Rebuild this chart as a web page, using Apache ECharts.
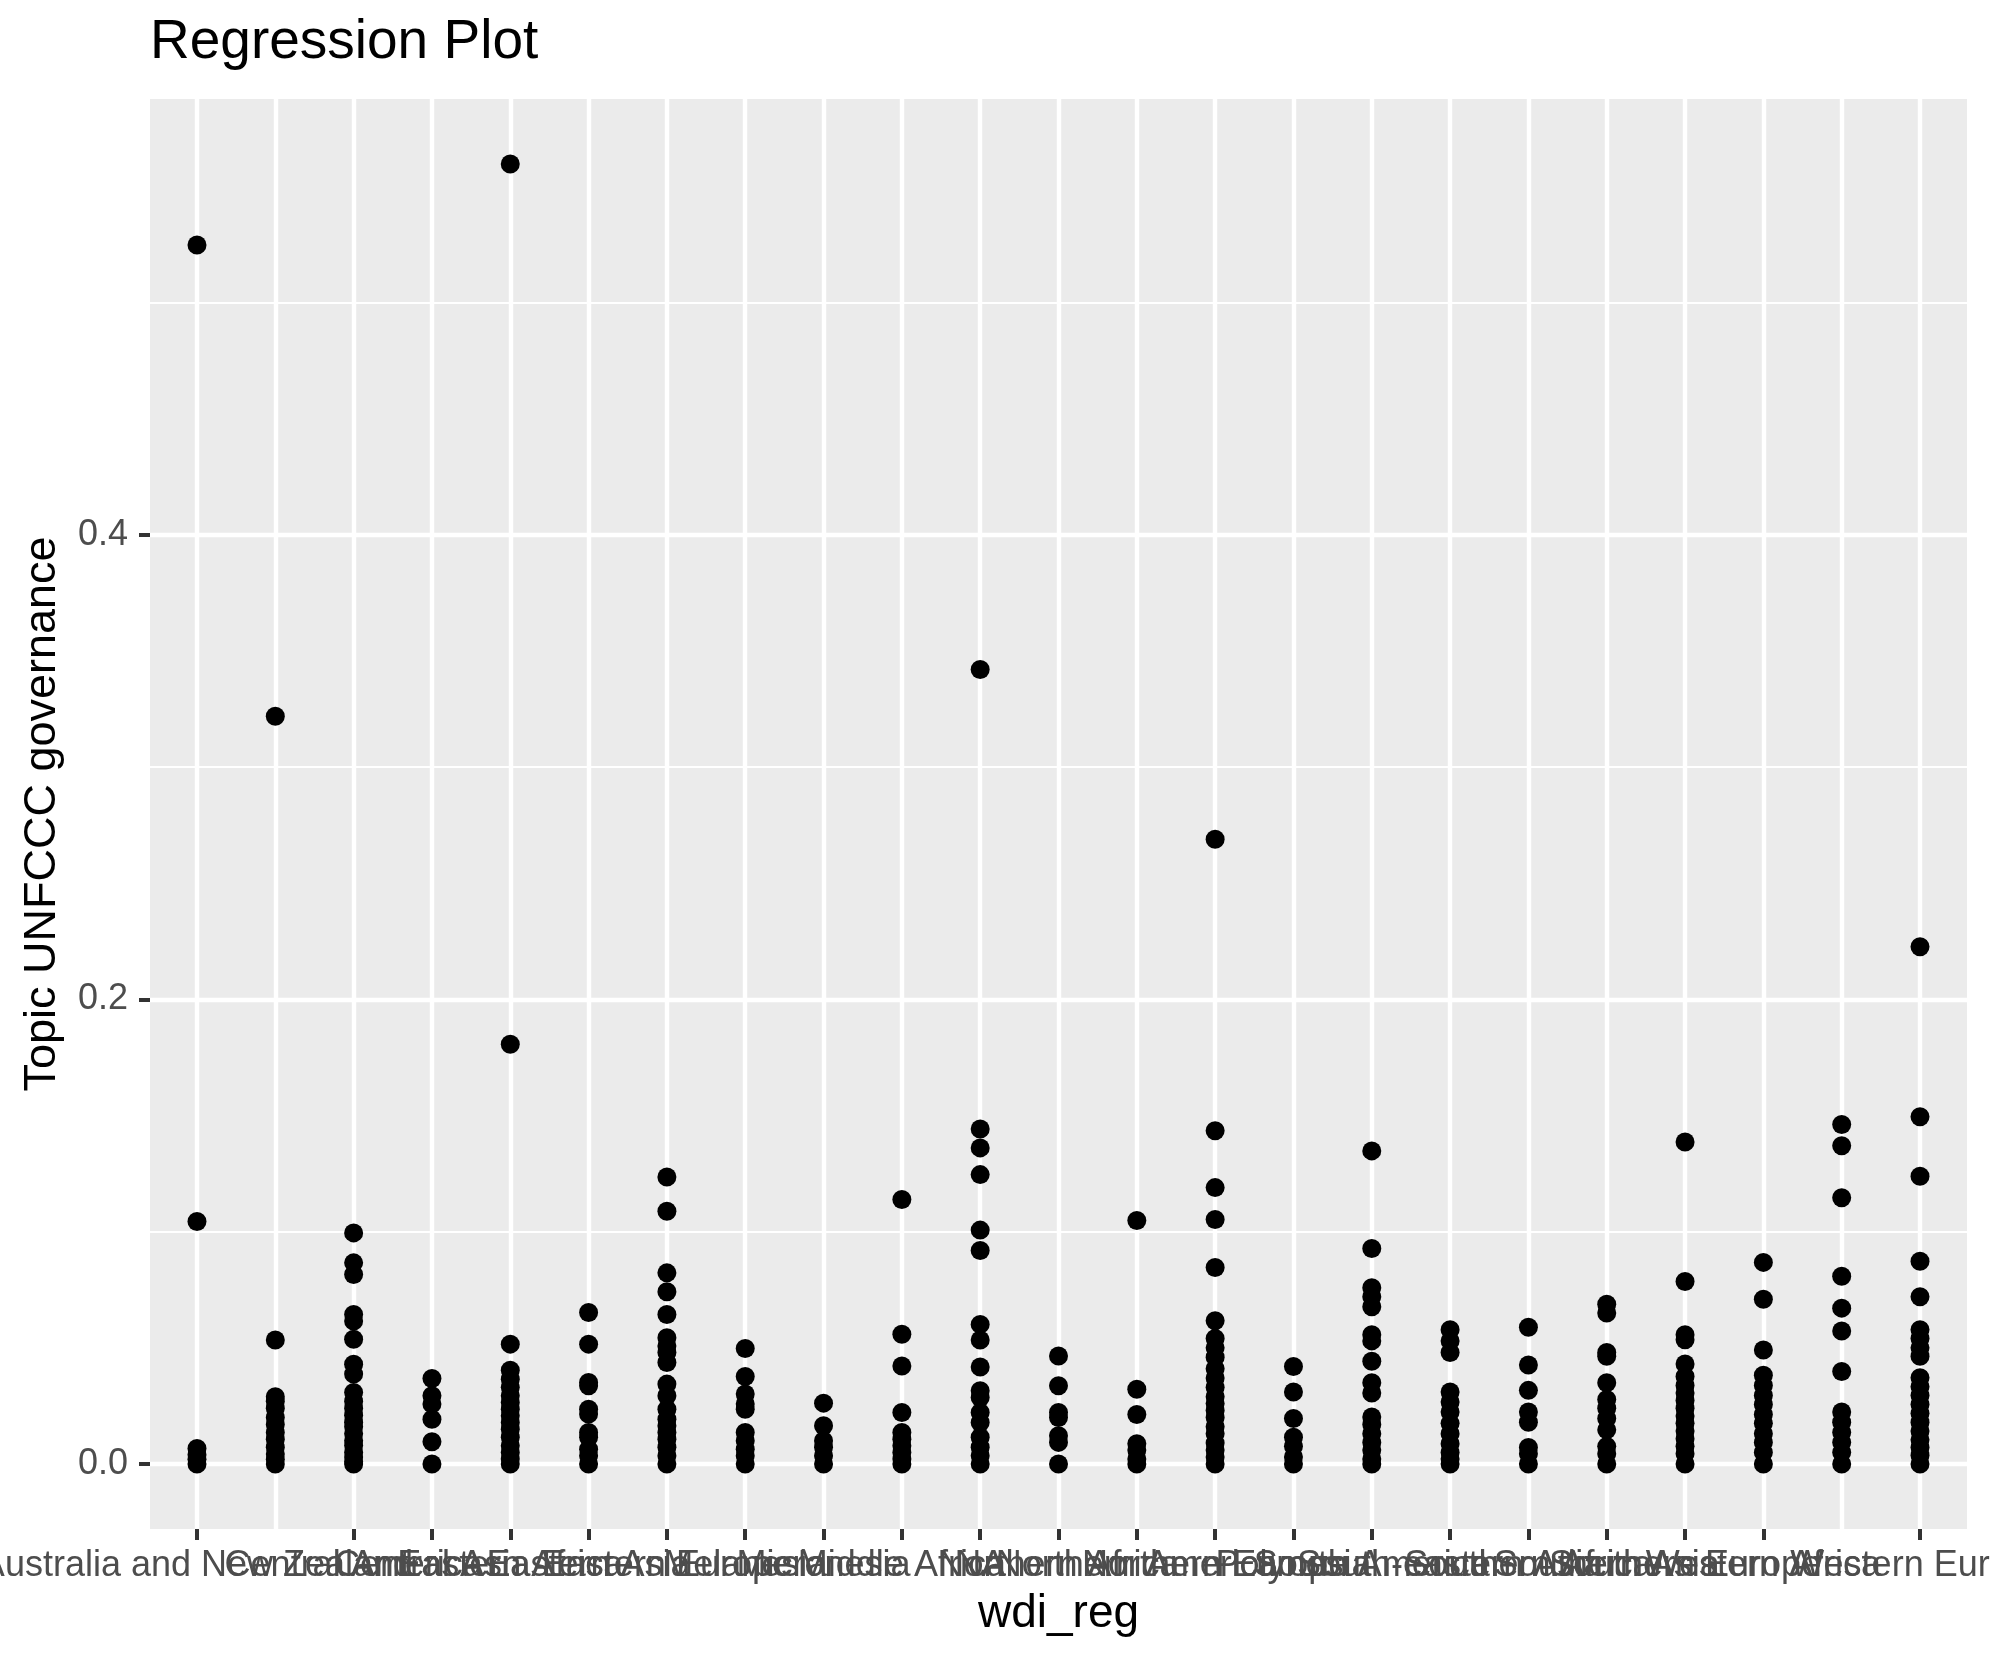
<!DOCTYPE html>
<html>
<head>
<meta charset="utf-8">
<style>
  html, body { margin: 0; padding: 0; background: #ffffff; }
  #chart { width: 1990px; height: 1665px; }
</style>
<script src="https://cdn.jsdelivr.net/npm/echarts@6/dist/echarts.min.js"></script>
</head>
<body>
<div id="chart"></div>
<script>
// Categories (x axis, discrete, alphabetical as in the reference)
const CATEGORIES = [
  "Australia and New Zealand", "Caribbean", "Central America", "Central Asia",
  "Eastern Africa", "Eastern Asia", "Eastern Europe", "Melanesia", "Micronesia",
  "Middle Africa", "NA", "Northern Africa", "Northern America", "Northern Europe",
  "Polynesia", "South America", "South-eastern Asia", "Southern Africa",
  "Southern Asia", "Southern Europe", "Western Africa", "Western Asia", "Western Europe"
];

// Values per category (Topic UNFCCC governance)
const australiaNZ     = [0.5248, 0.1044, 0.0067, 0.004, 0.002, 0];
const caribbean       = [0.3219, 0.0534, 0.029, 0.027, 0.024, 0.020, 0.017, 0.0136, 0.0107, 0.0072, 0.0043, 0.002, 0];
const centralAmerica  = [0.0995, 0.0866, 0.0816, 0.0644, 0.0616, 0.0537, 0.043, 0.0387, 0.0308, 0.027, 0.024, 0.021, 0.018, 0.016, 0.013, 0.010, 0.008, 0.005, 0.003, 0.001, 0];
const centralAsia     = [0.0368, 0.0294, 0.0258, 0.0193, 0.0096, 0];
const easternAfrica   = [0.5597, 0.1807, 0.0516, 0.0404, 0.0365, 0.033, 0.0294, 0.0265, 0.0236, 0.0208, 0.0179, 0.015, 0.0115, 0.0079, 0.005, 0.0021, 0];
const easternAsia     = [0.0652, 0.0516, 0.0351, 0.0337, 0.0236, 0.0215, 0.0136, 0.0115, 0.0064, 0.0036, 0];
const easternEurope   = [0.1236, 0.1088, 0.0823, 0.0742, 0.0644, 0.0544, 0.0508, 0.048, 0.0437, 0.0344, 0.0294, 0.0236, 0.0193, 0.0165, 0.0136, 0.0107, 0.0072, 0.0036, 0];
const melanesia       = [0.0497, 0.0377, 0.0301, 0.0258, 0.0236, 0.0136, 0.01, 0.0064, 0.0036, 0];
const micronesia      = [0.0262, 0.0165, 0.01, 0.0072, 0.0036, 0];
const middleAfrica    = [0.1139, 0.0559, 0.0422, 0.0222, 0.0136, 0.0107, 0.0079, 0.005, 0.0021, 0];
const naRegion        = [0.3421, 0.1442, 0.1361, 0.1246, 0.1007, 0.0919, 0.0601, 0.0534, 0.0418, 0.0315, 0.0286, 0.0222, 0.0179, 0.0115, 0.0072, 0.0036, 0];
const northernAfrica  = [0.0465, 0.0337, 0.0222, 0.02, 0.0122, 0.0093, 0];
const northernAmerica = [0.1048, 0.0322, 0.0213, 0.0087, 0.006, 0.0022, 0];
const northernEurope  = [0.269, 0.1435, 0.119, 0.1053, 0.0846, 0.0617, 0.054, 0.05, 0.046, 0.041, 0.037, 0.033, 0.029, 0.026, 0.023, 0.020, 0.016, 0.013, 0.009, 0.006, 0.003, 0];
const polynesia       = [0.042, 0.031, 0.0196, 0.0115, 0.0076, 0.003, 0];
const southAmerica    = [0.1348, 0.0928, 0.0759, 0.072, 0.0677, 0.0557, 0.053, 0.0442, 0.035, 0.0306, 0.0202, 0.017, 0.013, 0.0093, 0.006, 0.0022, 0];
const southEastAsia   = [0.0578, 0.053, 0.048, 0.031, 0.0267, 0.0224, 0.0175, 0.013, 0.0087, 0.005, 0.0022, 0];
const southernAfrica  = [0.0589, 0.0426, 0.0317, 0.0224, 0.018, 0.0071, 0.0044, 0];
const southernAsia    = [0.0688, 0.065, 0.048, 0.0464, 0.035, 0.0278, 0.024, 0.0196, 0.0147, 0.0076, 0.0044, 0];
const southernEurope  = [0.1386, 0.0786, 0.0557, 0.0535, 0.0431, 0.0377, 0.0338, 0.0306, 0.0273, 0.024, 0.0207, 0.0175, 0.0142, 0.0109, 0.0076, 0.0044, 0];
const westernAfrica   = [0.0868, 0.0709, 0.0491, 0.0382, 0.0338, 0.0295, 0.0256, 0.0213, 0.0175, 0.013, 0.0093, 0.005, 0];
const westernAsia     = [0.1462, 0.137, 0.1146, 0.0808, 0.0671, 0.0573, 0.0398, 0.0224, 0.018, 0.0136, 0.0093, 0.005, 0];
const westernEurope   = [0.2227, 0.1495, 0.1239, 0.0873, 0.072, 0.0578, 0.054, 0.05, 0.0464, 0.0371, 0.0333, 0.0295, 0.0256, 0.0218, 0.018, 0.0142, 0.0104, 0.0071, 0.0038, 0];

const VALUES_BY_CATEGORY = [
  australiaNZ, caribbean, centralAmerica, centralAsia, easternAfrica, easternAsia,
  easternEurope, melanesia, micronesia, middleAfrica, naRegion, northernAfrica,
  northernAmerica, northernEurope, polynesia, southAmerica, southEastAsia,
  southernAfrica, southernAsia, southernEurope, westernAfrica, westernAsia, westernEurope
];

// Y tick labels (major)
const Y_TICKS = [0, 0.2, 0.4];

// Build scatter data through the axes' scales
const points = [];
VALUES_BY_CATEGORY.forEach((arr, i) => arr.forEach(v => points.push([i, v])));

const allVals = points.map(p => p[1]);
const dMax = Math.max(...allVals), dMin = Math.min(...allVals);
const span = dMax - dMin;
const YMIN = dMin - 0.05 * span;
const YMAX = dMax + 0.05 * span;
const catIdx = CATEGORIES.map((_, i) => i);

const FONT = '"Liberation Sans", Arial, Helvetica, sans-serif';

const chart = echarts.init(document.getElementById('chart'), null, { renderer: 'canvas' });
chart.setOption({
  animation: false,
  backgroundColor: '#ffffff',
  textStyle: { fontFamily: FONT },
  title: {
    text: 'Regression Plot',
    left: 150, top: 15, padding: 0,
    textStyle: { fontSize: 55, fontWeight: 'normal', color: '#000000', fontFamily: FONT }
  },
  grid: {
    left: 150, right: 23, top: 99, bottom: 136,
    containLabel: false, outerBoundsMode: 'none',
    show: true, backgroundColor: '#EBEBEB', borderWidth: 0
  },
  xAxis: {
    type: 'value',
    min: -0.6, max: CATEGORIES.length - 1 + 0.6,
    splitNumber: CATEGORIES.length,
    axisLine: { show: false, onZero: false },
    axisTick: { show: true, customValues: catIdx, length: 11, lineStyle: { color: '#333333', width: 4 } },
    axisLabel: {
      customValues: catIdx, showMinLabel: true, showMaxLabel: true, hideOverlap: false,
      formatter: v => CATEGORIES[Math.round(v)] || '',
      margin: 19, fontSize: 36, color: '#4D4D4D', fontFamily: FONT
    },
    splitLine: { show: true, showMinLine: true, showMaxLine: true, lineStyle: { color: '#ffffff', width: 4.4 } },
    name: 'wdi_reg', nameLocation: 'middle', nameGap: 62,
    nameTextStyle: { fontSize: 46, color: '#000000', fontFamily: FONT }
  },
  yAxis: [
    {
      type: 'value', min: YMIN, max: YMAX,
      axisLine: { show: false, onZero: false },
      axisTick: { show: true, customValues: Y_TICKS, length: 11, lineStyle: { color: '#333333', width: 4 } },
      axisLabel: {
        customValues: Y_TICKS, showMinLabel: true, showMaxLabel: true,
        formatter: v => v.toFixed(1),
        margin: 22, fontSize: 36, color: '#4D4D4D', fontFamily: FONT
      },
      splitLine: { show: true, showMinLine: true, showMaxLine: true, lineStyle: { color: '#ffffff', width: 4.4 } },
      name: 'Topic UNFCCC governance', nameLocation: 'middle', nameGap: 85, nameRotate: 90,
      nameTextStyle: { fontSize: 45, color: '#000000', fontFamily: FONT }
    },
    {
      type: 'value', min: YMIN, max: YMAX, splitNumber: 6, position: 'left',
      axisLine: { show: false, onZero: false },
      axisTick: { show: false },
      axisLabel: { show: false },
      splitLine: { show: true, showMinLine: false, showMaxLine: false, lineStyle: { color: '#ffffff', width: 2.2 } }
    }
  ],
  series: [{
    type: 'scatter',
    xAxisIndex: 0, yAxisIndex: 0,
    data: points,
    symbol: 'circle',
    symbolSize: 19,
    itemStyle: { color: '#000000', opacity: 1 },
    silent: true,
    z: 3
  }]
});
</script>
</body>
</html>
